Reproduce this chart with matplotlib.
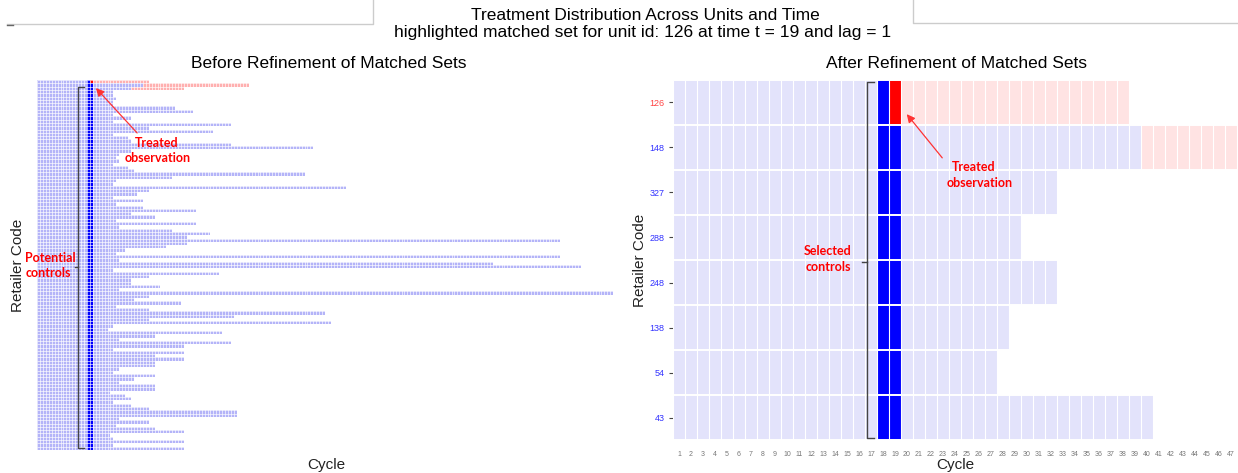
import numpy as np
import matplotlib
matplotlib.use('Agg')
import matplotlib.pyplot as plt
from matplotlib.colors import ListedColormap, BoundaryNorm

W, H = 1238, 473

# ---------------- data ----------------
treated_cycle = 19
matched_cycles = [18, 19]

# Before refinement: last observed cycle for every unit (top to bottom)
left_row_end = [38, 72, 50, 26, 26, 27, 26, 26, 47, 53, 26, 32, 26, 66, 38, 60, 26, 31, 32, 66,
                94, 32, 28, 27, 28, 26, 31, 33, 91, 46, 27, 26, 105, 38, 34, 26, 36, 27, 36,
                54, 32, 40, 27, 54, 28, 46, 59, 51, 178, 51, 44, 30, 27, 178, 28, 155, 185, 26,
                62, 38, 32, 32, 42, 28, 196, 38, 33, 49, 27, 38, 98, 67, 38, 100,
                26, 24, 63, 40, 28, 66, 50, 26, 50, 40, 50, 40, 40, 28, 26, 40, 33, 28, 40, 40,
                25, 30, 32, 26, 32, 38, 68, 68, 28, 38, 27, 40, 50, 25, 26, 50, 26, 50]
left_treated_rows = [0, 1, 2]
left_treated_start = [19, 37, 33]

# After refinement
right_units = ['126', '148', '327', '288', '248', '138', '54', '43']
right_row_end = [38, 47, 32, 29, 32, 28, 27, 40]
right_treated_start = [19, 40, 0, 0, 0, 0, 0, 0]
right_label_colors = ['#ff4444', '#3333ff', '#3333ff', '#3333ff', '#3333ff', '#3333ff', '#3333ff', '#3333ff']
n_cycles_right = 47


def build_matrix(ends, treated_rows, treated_start, ncol):
    M = np.full((len(ends), ncol), np.nan)
    for r, e in enumerate(ends):
        M[r, :e] = 1
        for c in matched_cycles:
            if c <= e:
                M[r, c - 1] = 2
    for r, s in zip(treated_rows, treated_start):
        if s <= 0:
            continue
        e = ends[r]
        if s == treated_cycle and r == 0:
            M[r, s - 1] = 3
            M[r, s:e] = 4
        else:
            M[r, s - 1:e] = 4
    return np.ma.masked_invalid(M)


def px_rect(x0, y0, x1, y1):
    return [x0 / W, 1 - y1 / H, (x1 - x0) / W, (y1 - y0) / H]


fig = plt.figure(figsize=(W / 100, H / 100), dpi=100)
plt.rcParams['font.family'] = ['Liberation Sans', 'DejaVu Sans']
norm = BoundaryNorm([0.5, 1.5, 2.5, 3.5, 4.5], 4)

# ---------------- left panel ----------------
ncol_left = 197
nrow_left = len(left_row_end)
ML = build_matrix(left_row_end, left_treated_rows, left_treated_start, ncol_left)
cmapL = ListedColormap(['#b4b4f8', '#0000ff', '#ff0000', '#ffb0b0'])
axL = fig.add_axes(px_rect(37, 80, 37 + ncol_left * 2.94, 450))
xe = np.arange(ncol_left + 1) + 0.5
ye = np.arange(nrow_left + 1)
axL.pcolormesh(xe, ye, ML, cmap=cmapL, norm=norm, edgecolors='none', antialiased=False)
axL.vlines(xe, 0, nrow_left, color='white', lw=0.45)
axL.hlines(ye, 0.5, ncol_left + 0.5, color='white', lw=0.45)
axL.set_xlim(0.5, ncol_left + 0.5)
axL.set_ylim(nrow_left, 0)
axL.set_xticks([])
axL.set_yticks([])
for s in axL.spines.values():
    s.set_visible(False)

# ---------------- right panel ----------------
nrow_right = len(right_units)
MR = build_matrix(right_row_end, list(range(nrow_right)), right_treated_start, n_cycles_right)
cmapR = ListedColormap(['#e3e3fb', '#0000ff', '#ff0000', '#ffe3e3'])
axR = fig.add_axes(px_rect(673, 80, 673 + n_cycles_right * 12.0, 440))
xe = np.arange(n_cycles_right + 1) + 0.5
ye = np.arange(nrow_right + 1)
axR.pcolormesh(xe, ye, MR, cmap=cmapR, norm=norm, edgecolors='none', antialiased=False)
axR.vlines(xe, 0, nrow_right, color='white', lw=0.8)
axR.hlines(ye, 0.5, n_cycles_right + 0.5, color='white', lw=1.4)
axR.set_xlim(0.5, n_cycles_right + 0.5)
axR.set_ylim(nrow_right, 0)
axR.set_xticks(np.arange(1, n_cycles_right + 1))
axR.set_xticklabels([str(i) for i in range(1, n_cycles_right + 1)], fontsize=5, color='#777777')
axR.tick_params(axis='x', length=0, pad=8)
axR.set_yticks(np.arange(nrow_right) + 0.5)
axR.set_yticklabels(right_units, fontsize=6.5)
for lab, col in zip(axR.get_yticklabels(), right_label_colors):
    lab.set_color(col)
axR.tick_params(axis='y', length=3, width=0.8, color='#444444', pad=3)
for s in axR.spines.values():
    s.set_visible(False)

# ---------------- overlay for titles / annotations ----------------
ov = fig.add_axes([0, 0, 1, 1], facecolor='none')
ov.set_xlim(0, W)
ov.set_ylim(H, 0)
ov.axis('off')

# screenshot frame lines at the top
ov.plot([7, 373, 373], [24, 24, 0], color='#cccccc', lw=1)
ov.plot([7, 13], [25, 25], color='#666666', lw=1)
ov.plot([913, 913, 1238], [0, 23, 23], color='#cccccc', lw=1)

ov.text(645, 15, 'Treatment Distribution Across Units and Time', ha='center', va='center', fontsize=12.5)
ov.text(643, 33, 'highlighted matched set for unit id: 126 at time t = 19 and lag = 1',
        ha='center', va='center', fontsize=12.5)
ov.text(329, 63, 'Before Refinement of Matched Sets', ha='center', va='center', fontsize=12.5)
ov.text(956, 63, 'After Refinement of Matched Sets', ha='center', va='center', fontsize=12.5)

ov.text(326, 465, 'Cycle', ha='center', va='center', fontsize=11, color='#222222')
ov.text(955, 465, 'Cycle', ha='center', va='center', fontsize=11, color='#222222')
ov.text(18, 265, 'Retailer Code', ha='center', va='center', rotation=90, fontsize=11, color='#222222')
ov.text(640, 260, 'Retailer Code', ha='center', va='center', rotation=90, fontsize=11, color='#222222')

# brackets
br = dict(color='#444444', lw=1)
ov.plot([84, 78, 78, 84], [87, 87, 448, 448], **br)
ov.plot([78, 75], [267, 267], **br)
ov.plot([874, 867, 867, 874], [82, 82, 438, 438], **br)
ov.plot([867, 862], [262, 262], **br)

anno = dict(color='#ff0000', fontsize=9, fontweight='bold', family=['Lato', 'DejaVu Sans'],
            ha='center', va='center')
ov.text(50, 258, 'Potential', **anno)
ov.text(48, 273, 'controls', **anno)
ov.text(157, 143, 'Treated', **anno)
ov.text(158, 158, 'observation', **anno)
ov.text(828, 251, 'Selected', **anno)
ov.text(828, 267, 'controls', **anno)
ov.text(974, 167, 'Treated', **anno)
ov.text(980, 183, 'observation', **anno)

arrow = dict(arrowstyle='-|>', color='#ff3333', lw=0.9, mutation_scale=12)
ov.annotate('', xy=(94, 86), xytext=(139, 135), arrowprops=arrow)
ov.annotate('', xy=(905, 112), xytext=(944, 160), arrowprops=arrow)

fig.savefig('out.png', dpi=100)
